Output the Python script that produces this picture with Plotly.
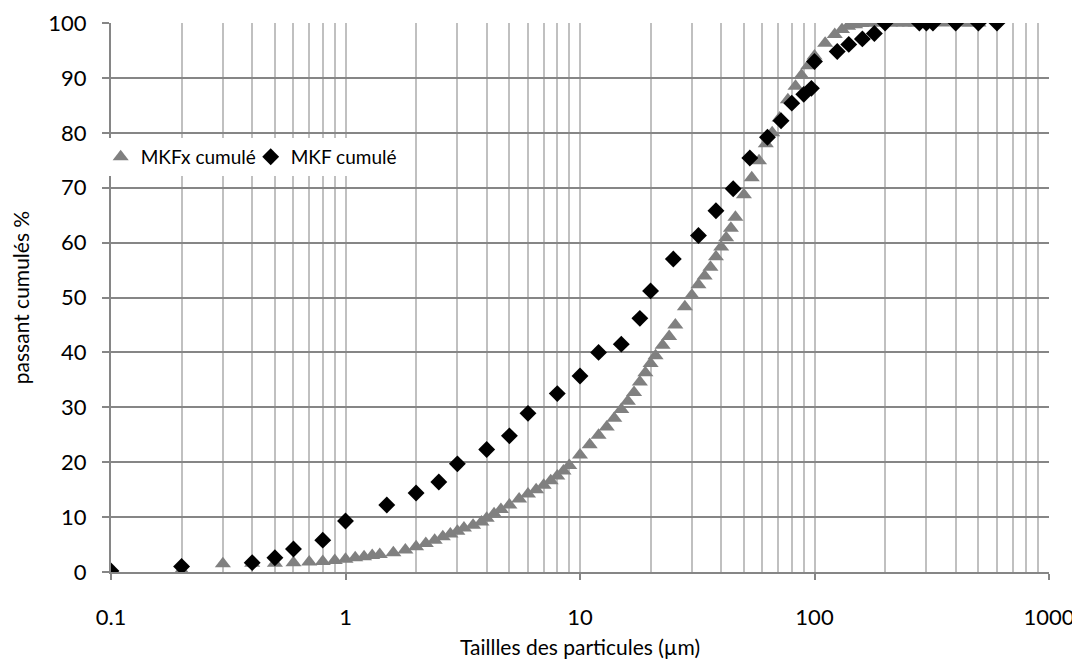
import plotly.graph_objects as go

# MKFx cumulé (gray triangles)
mkfx_size = [0.1, 0.2, 0.3, 0.4, 0.5, 0.6, 0.7, 0.8, 0.9, 1.0,
             1.1, 1.2, 1.3, 1.4, 1.6, 1.8, 2.0, 2.2, 2.4, 2.6,
             2.8, 3.0, 3.2, 3.5, 3.8, 4.0, 4.3, 4.6, 5.0, 5.5,
             6.0, 6.5, 7.0, 7.5, 8.0, 8.5, 9.0, 10, 11, 12,
             13, 14, 15, 16, 17, 18, 19, 20, 21, 22.5,
             24, 25.5, 28, 30, 32, 34, 36, 38, 40, 42,
             44, 46, 50, 54, 58, 62, 66, 71, 77, 83,
             88, 94, 100, 111, 122, 131, 139, 149, 159, 170,
             181, 194, 210, 224, 240, 255, 270, 300, 350, 430,
             460, 500]
mkfx_cum = [0.0, 0.3, 1.5, 1.6, 1.6, 1.7, 1.8, 1.9, 2.1, 2.3,
            2.6, 2.8, 3.0, 3.2, 3.5, 4.0, 4.6, 5.2, 5.8, 6.4,
            6.9, 7.4, 8.0, 8.5, 9.1, 9.8, 10.6, 11.4, 12.2, 13.3,
            14.2, 15.0, 15.8, 16.6, 17.5, 18.4, 19.4, 21.3, 23.2, 24.9,
            26.4, 28.0, 29.6, 31.1, 32.7, 34.6, 36.3, 38.0, 39.4, 41.3,
            42.9, 45.0, 48.3, 50.4, 52.3, 53.9, 55.5, 57.4, 59.2, 60.9,
            62.6, 64.6, 68.7, 71.8, 74.9, 78.0, 80.0, 82.7, 86.0, 88.5,
            90.5, 92.2, 94.0, 96.3, 97.9, 98.8, 99.4, 99.7, 99.9, 100,
            100, 100, 100, 100, 100, 100, 100, 100, 100, 100,
            100, 100]

# MKF cumulé (black diamonds)
mkf_size = [0.1, 0.2, 0.4, 0.5, 0.6, 0.8, 1.0, 1.5, 2.0, 2.5,
            3.0, 4.0, 5.0, 6.0, 8.0, 10, 12, 15, 18, 20,
            25, 32, 38, 45, 53, 63, 72, 80, 90, 97,
            100, 125, 140, 160, 180, 200, 280, 300, 320, 400,
            500, 600]
mkf_cum = [0.2, 1.0, 1.7, 2.6, 4.2, 5.8, 9.3, 12.2, 14.4, 16.4,
           19.7, 22.3, 24.8, 28.9, 32.5, 35.7, 40.0, 41.5, 46.2, 51.2,
           57.0, 61.3, 65.8, 69.8, 75.4, 79.2, 82.2, 85.4, 87.0, 88.1,
           93.0, 94.8, 96.1, 97.1, 98.1, 100, 100, 100, 100, 100,
           100, 100]

x_ticks = [0.1, 1, 10, 100, 1000]
x_ticktext = ["0.1", "1", "10", "100", "1000"]
minor_vals = [k * 10 ** e for e in range(-1, 3) for k in range(2, 10)]

FONT = "Lato"

fig = go.Figure()
fig.add_trace(go.Scatter(
    x=mkfx_size, y=mkfx_cum, mode="markers", name="MKFx cumulé",
    marker=dict(symbol="triangle-up", size=14, color="#808080"),
))
fig.add_trace(go.Scatter(
    x=mkf_size, y=mkf_cum, mode="markers", name="MKF cumulé",
    marker=dict(symbol="diamond", size=13, color="#000000"),
))

# page body has an 8px margin, so the margins are shifted to compensate
fig.update_layout(
    width=1080, height=660,
    margin=dict(l=103, r=39, t=15, b=96),
    paper_bgcolor="white", plot_bgcolor="white",
    font=dict(family=FONT, size=22, color="#000000"),
    showlegend=True,
    legend=dict(
        orientation="h", x=-0.011, y=0.756, xanchor="left", yanchor="middle",
        bgcolor="white", font=dict(size=19), itemwidth=30,
        entrywidth=105, entrywidthmode="pixels",
    ),
    xaxis=dict(
        type="log", range=[-1, 3], automargin=False,
        tickmode="array", tickvals=x_ticks, ticktext=x_ticktext,
        showgrid=True, gridcolor="#c0c0c0", gridwidth=2,
        minor=dict(tickvals=minor_vals, showgrid=True, gridcolor="#c0c0c0", gridwidth=2),
        showline=True, linecolor="#868686", linewidth=2,
        ticks="outside", ticklen=6, tickcolor="#868686", tickwidth=2,
        ticklabelstandoff=19,
        zeroline=False,
        title=dict(text="Taillles des particules (µm)", standoff=11, font=dict(size=21)),
    ),
    yaxis=dict(
        range=[0, 100], dtick=10, automargin=False,
        showgrid=True, gridcolor="#868686", gridwidth=2,
        showline=True, linecolor="#868686", linewidth=2,
        ticks="outside", ticklen=7, tickcolor="#868686", tickwidth=2,
        ticklabelstandoff=11,
        zeroline=False,
        title=dict(text="passant cumulés %", standoff=16, font=dict(size=21)),
    ),
)

fig.write_html("out.html")
